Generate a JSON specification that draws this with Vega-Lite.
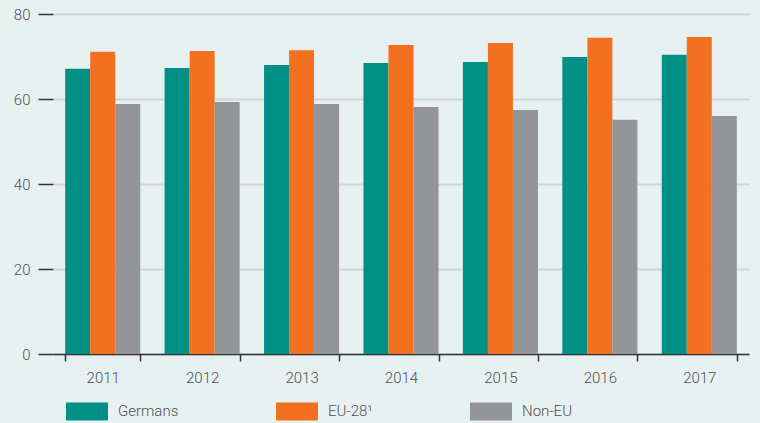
{
  "$schema": "https://vega.github.io/schema/vega-lite/v6.json",
  "autosize": "none",
  "width": 696,
  "height": 340,
  "padding": {"left": 53, "top": 14, "right": 11, "bottom": 69},
  "background": "#e8f1f2",
  "config": {
    "view": {"stroke": null},
    "font": "Roboto",
    "axis": {"labelFont": "Roboto", "labelColor": "#505050", "labelFontSize": 15, "labelFontWeight": 300},
    "legend": {"labelFont": "Roboto", "labelColor": "#505050", "labelFontSize": 15, "labelFontWeight": 300}
  },
  "data": {
    "values": [
      {"year": "2011", "group": "Germans", "value": 67.1},
      {"year": "2011", "group": "EU-28¹", "value": 71.1},
      {"year": "2011", "group": "Non-EU", "value": 58.8},
      {"year": "2012", "group": "Germans", "value": 67.3},
      {"year": "2012", "group": "EU-28¹", "value": 71.3},
      {"year": "2012", "group": "Non-EU", "value": 59.3},
      {"year": "2013", "group": "Germans", "value": 68.0},
      {"year": "2013", "group": "EU-28¹", "value": 71.5},
      {"year": "2013", "group": "Non-EU", "value": 58.8},
      {"year": "2014", "group": "Germans", "value": 68.5},
      {"year": "2014", "group": "EU-28¹", "value": 72.7},
      {"year": "2014", "group": "Non-EU", "value": 58.1},
      {"year": "2015", "group": "Germans", "value": 68.7},
      {"year": "2015", "group": "EU-28¹", "value": 73.2},
      {"year": "2015", "group": "Non-EU", "value": 57.4},
      {"year": "2016", "group": "Germans", "value": 69.9},
      {"year": "2016", "group": "EU-28¹", "value": 74.4},
      {"year": "2016", "group": "Non-EU", "value": 55.1},
      {"year": "2017", "group": "Germans", "value": 70.4},
      {"year": "2017", "group": "EU-28¹", "value": 74.6},
      {"year": "2017", "group": "Non-EU", "value": 56.0}
    ]
  },
  "mark": {"type": "bar"},
  "encoding": {
    "x": {
      "field": "year",
      "type": "nominal",
      "title": null,
      "scale": {"paddingInner": 0.245, "paddingOuter": 0.1225},
      "axis": {
        "labelAngle": 0,
        "tickBand": "extent",
        "domainColor": "#333333",
        "domainWidth": 1.5,
        "tickColor": "#333333",
        "tickWidth": 1.5,
        "tickSize": 7,
        "labelPadding": 9,
        "grid": false
      }
    },
    "xOffset": {
      "field": "group",
      "type": "nominal",
      "sort": ["Germans", "EU-28¹", "Non-EU"],
      "scale": {"paddingInner": 0, "paddingOuter": 0}
    },
    "y": {
      "field": "value",
      "type": "quantitative",
      "title": null,
      "scale": {"domain": [0, 80], "nice": false},
      "axis": {
        "values": [0, 20, 40, 60, 80],
        "domain": false,
        "tickColor": "#333333",
        "tickWidth": 1.5,
        "tickSize": 15,
        "labelPadding": 8,
        "gridColor": "#cfd6d8",
        "gridWidth": 2
      }
    },
    "color": {
      "field": "group",
      "type": "nominal",
      "sort": ["Germans", "EU-28¹", "Non-EU"],
      "scale": {"domain": ["Germans", "EU-28¹", "Non-EU"], "range": ["#009086", "#f37021", "#939598"]},
      "legend": {
        "title": null,
        "orient": "none",
        "legendX": 13,
        "legendY": 376,
        "direction": "horizontal",
        "columns": 3,
        "columnPadding": 97,
        "symbolType": "M-1,-0.43H1V0.43H-1Z",
        "symbolSize": 1764,
        "symbolStrokeWidth": 0,
        "symbolOpacity": 1,
        "labelOffset": 10
      }
    }
  }
}
